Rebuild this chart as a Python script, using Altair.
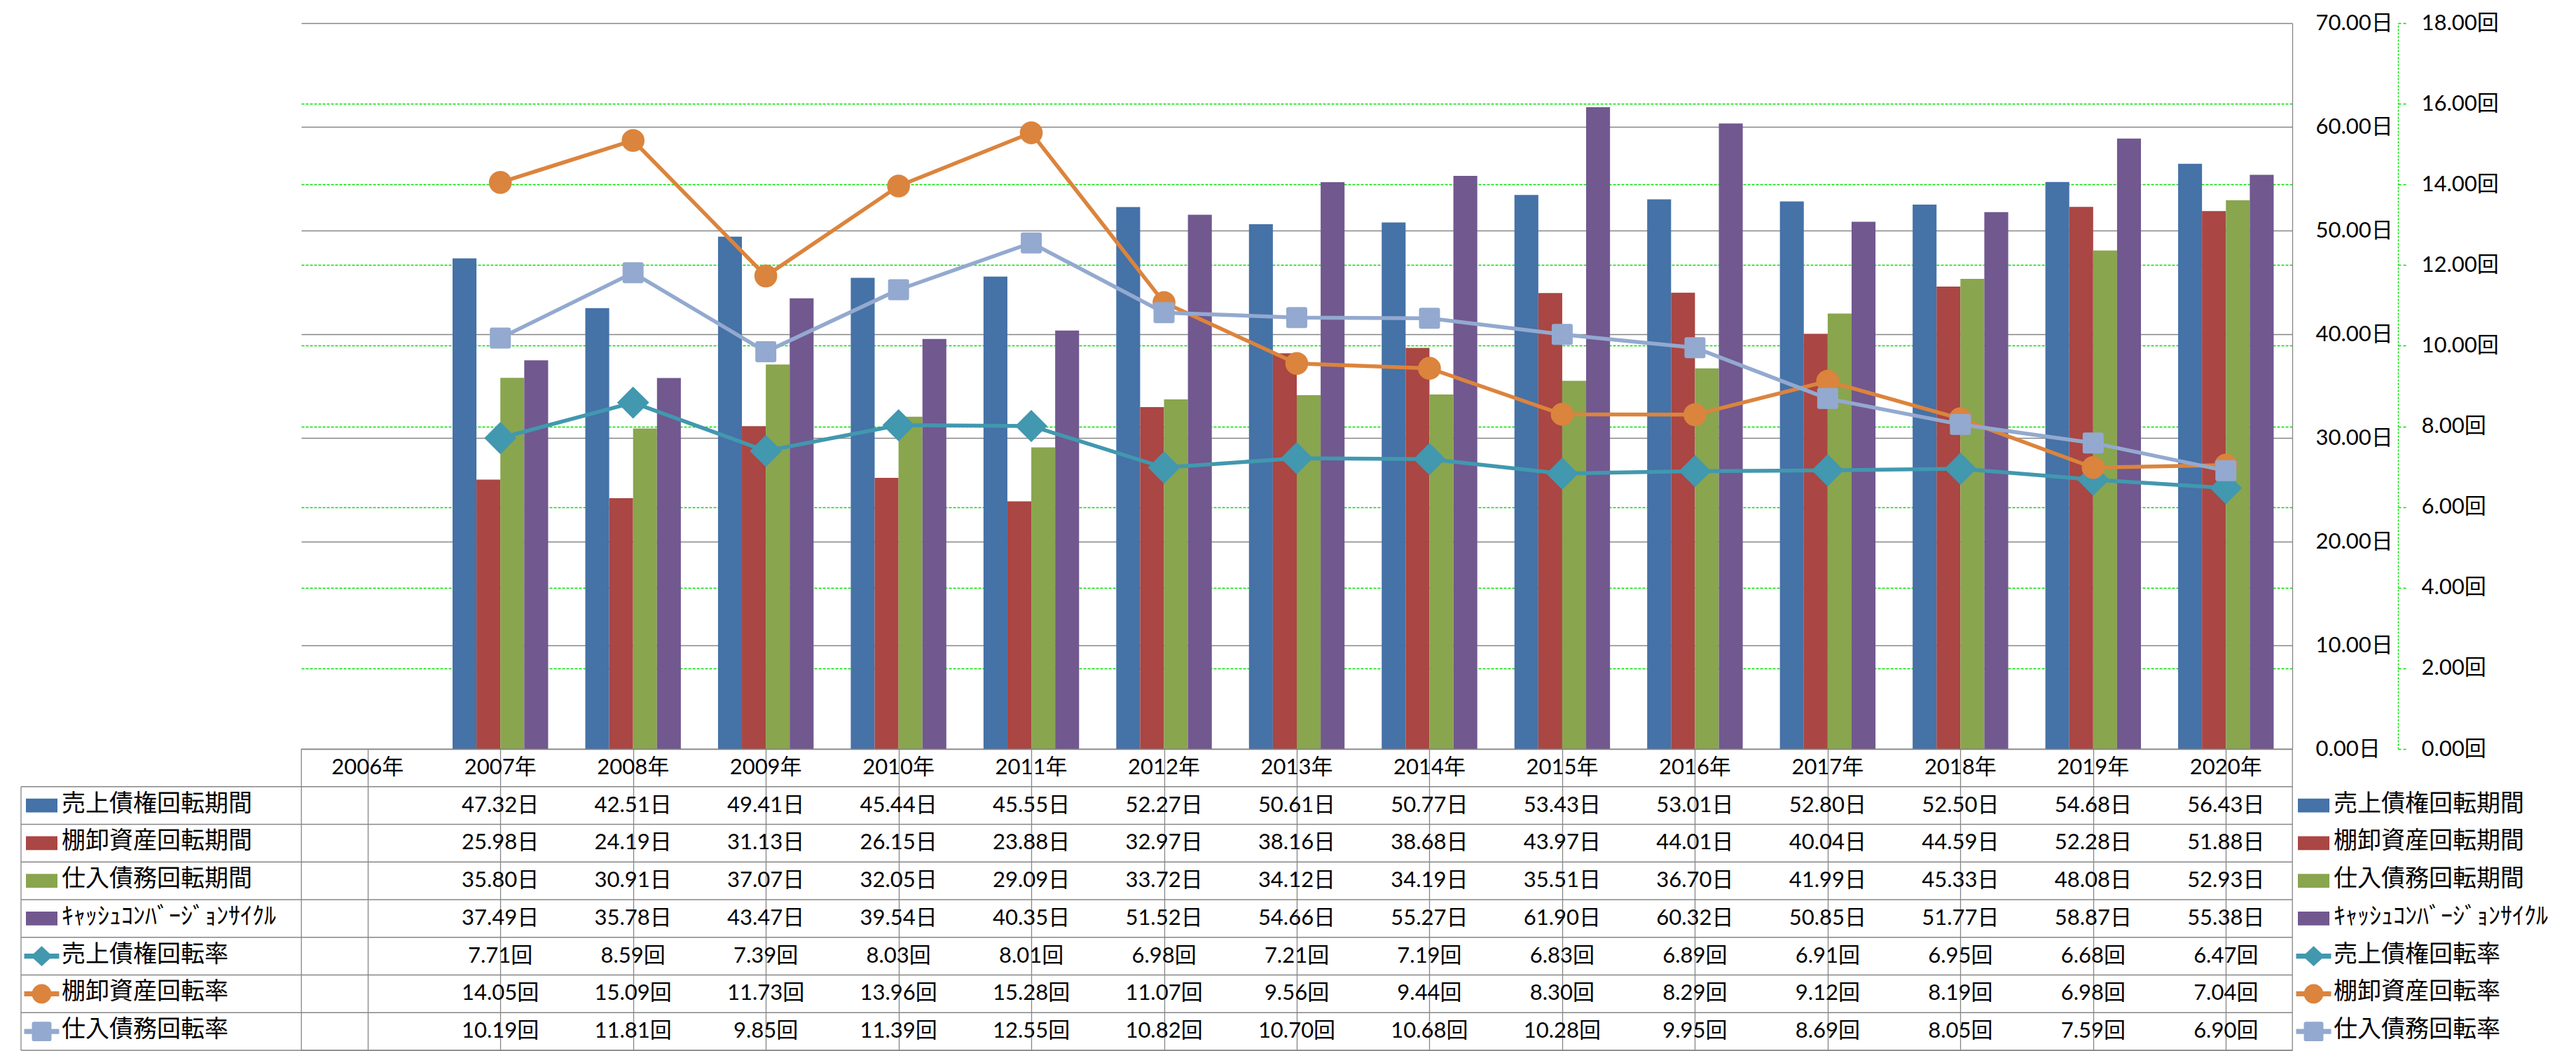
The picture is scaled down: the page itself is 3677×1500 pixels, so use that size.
import altair as alt
import pandas as pd

# ---------------- data ----------------
years = ["2006年", "2007年", "2008年", "2009年", "2010年", "2011年", "2012年", "2013年",
         "2014年", "2015年", "2016年", "2017年", "2018年", "2019年", "2020年"]
data_years = years[1:]

series_names = ["売上債権回転期間", "棚卸資産回転期間", "仕入債務回転期間", "ｷｬｯｼｭｺﾝﾊﾞｰｼﾞｮﾝｻｲｸﾙ",
                "売上債権回転率", "棚卸資産回転率", "仕入債務回転率"]
units = ["日", "日", "日", "日", "回", "回", "回"]
colors = ["#4572A7", "#AA4643", "#89A54E", "#71588F", "#4198AF", "#DB843D", "#93A9CF"]

receivable_days = [47.32, 42.51, 49.41, 45.44, 45.55, 52.27, 50.61, 50.77, 53.43, 53.01, 52.80, 52.50, 54.68, 56.43]
inventory_days = [25.98, 24.19, 31.13, 26.15, 23.88, 32.97, 38.16, 38.68, 43.97, 44.01, 40.04, 44.59, 52.28, 51.88]
payable_days = [35.80, 30.91, 37.07, 32.05, 29.09, 33.72, 34.12, 34.19, 35.51, 36.70, 41.99, 45.33, 48.08, 52.93]
ccc_days = [37.49, 35.78, 43.47, 39.54, 40.35, 51.52, 54.66, 55.27, 61.90, 60.32, 50.85, 51.77, 58.87, 55.38]
receivable_turns = [7.71, 8.59, 7.39, 8.03, 8.01, 6.98, 7.21, 7.19, 6.83, 6.89, 6.91, 6.95, 6.68, 6.47]
inventory_turns = [14.05, 15.09, 11.73, 13.96, 15.28, 11.07, 9.56, 9.44, 8.30, 8.29, 9.12, 8.19, 6.98, 7.04]
payable_turns = [10.19, 11.81, 9.85, 11.39, 12.55, 10.82, 10.70, 10.68, 10.28, 9.95, 8.69, 8.05, 7.59, 6.90]

all_values = [receivable_days, inventory_days, payable_days, ccc_days,
              receivable_turns, inventory_turns, payable_turns]

day_ticks = [0, 10, 20, 30, 40, 50, 60, 70]
turn_ticks = [0, 2, 4, 6, 8, 10, 12, 14, 16, 18]

rows = []
for name, unit, vals in zip(series_names, units, all_values):
    for yr, v in zip(data_years, vals):
        rows.append({"year": yr, "series": name, "unit": unit, "value": v})
df = pd.DataFrame(rows)
header_df = pd.DataFrame({"year": years, "row": "header", "label": years})
row_keys = ["header"] + series_names
rows_df = pd.DataFrame({"row": row_keys})
keys_df = pd.DataFrame({"series": series_names, "row": series_names})

# ---------------- style ----------------
W = 2842
H_TOP = 1036
H_TAB = 430
ROW_H = H_TAB / 8
GRAY = "#868686"
GREEN = "#00E000"
JP = "'Noto Sans CJK JP'"
NUM = "Lato, 'Noto Sans CJK JP'"
NUM_SIZE = 31
LAB_SIZE = 34

# ---------------- top chart ----------------
x_top = alt.X("year:N", sort=years,
              scale=alt.Scale(domain=years, paddingInner=0.28, paddingOuter=0.14),
              axis=None)

day_axis = alt.Axis(orient="right", values=day_ticks, title=None,
                    labelExpr="format(datum.value, '.2f') + '日'",
                    domainColor=GRAY, domainWidth=1.3, ticks=True, tickSize=0,
                    tickColor="transparent", labelPadding=33, labelFont=NUM,
                    labelFontSize=NUM_SIZE, labelColor="#000000", labelFlush=False,
                    labelOverlap=False, grid=True, gridColor=GRAY, gridWidth=1.3)

turn_axis = alt.Axis(orient="right", offset=151, values=turn_ticks, title=None,
                     labelExpr="format(datum.value, '.2f') + '回'",
                     domainColor=GREEN, domainDash=[3, 2], domainWidth=1.5,
                     tickColor=GREEN, tickDash=[4, 3], tickSize=12, tickWidth=1.5,
                     labelPadding=21, labelFont=NUM, labelFontSize=NUM_SIZE,
                     labelColor="#000000", labelFlush=False, labelOverlap=False,
                     grid=True, gridColor=GREEN, gridDash=[4, 2], gridWidth=1.5,
                     gridOpacity=alt.condition("datum.value === 18 || datum.value === 0",
                                               alt.value(0), alt.value(1)))

bars = alt.Chart(df).transform_filter(
    alt.FieldOneOfPredicate(field="series", oneOf=series_names[:4])
).mark_bar().encode(
    x=x_top,
    xOffset=alt.XOffset("series:N", sort=series_names[:4],
                        scale=alt.Scale(domain=series_names[:4], paddingInner=0, paddingOuter=0)),
    y=alt.Y("value:Q", scale=alt.Scale(domain=[0, 70], nice=False), axis=day_axis),
    color=alt.Color("series:N", scale=alt.Scale(domain=series_names[:4], range=colors[:4]),
                    legend=None),
)

y_turn = alt.Y("value:Q", scale=alt.Scale(domain=[0, 18], nice=False), axis=turn_axis)

marker_specs = [
    dict(shape="diamond", size=1850),
    dict(shape="circle", size=940),
    dict(shape="square", size=576, strokeWidth=6, strokeJoin="round"),
]
line_layers = []
for i, spec in zip(range(4, 7), marker_specs):
    sub = alt.Chart(df).transform_filter(alt.datum.series == series_names[i])
    line_layers.append(sub.mark_line(color=colors[i], strokeWidth=5.5).encode(x=x_top, y=y_turn))
    line_layers.append(sub.mark_point(filled=True, opacity=1, color=colors[i], fill=colors[i],
                                      stroke=colors[i], **spec).encode(x=x_top, y=y_turn))

top = alt.layer(bars, alt.layer(*line_layers)).resolve_scale(y="independent").properties(
    width=W, height=H_TOP)

# ---------------- data table with legend keys ----------------
x_tab = alt.X("year:N", sort=years,
              scale=alt.Scale(domain=years, paddingInner=0, paddingOuter=0),
              axis=alt.Axis(title=None, labels=False, ticks=False, domain=False, grid=True,
                            gridColor=GRAY, gridWidth=1.3, bandPosition=0))
tab_scale = alt.Scale(domain=row_keys, paddingInner=0, paddingOuter=0)
y_tab = alt.Y("row:N", sort=row_keys, scale=tab_scale, axis=None)

header_text = alt.Chart(header_df).mark_text(
    font=NUM, fontSize=NUM_SIZE, color="#000000", align="center", baseline="middle"
).encode(x=x_tab, y=y_tab, text="label:N")

cell_text = alt.Chart(df).transform_calculate(
    row="datum.series",
    label="format(datum.value, '.2f') + datum.unit",
).mark_text(
    font=NUM, fontSize=NUM_SIZE, color="#000000", align="center", baseline="middle"
).encode(x=x_tab, y=y_tab, text="label:N")

# horizontal table lines at the bottom edge of every row (left column included)
row_lines = alt.Chart(rows_df).mark_rule(color=GRAY, strokeWidth=1.3).encode(
    y=alt.Y("row:N", sort=row_keys, scale=tab_scale, axis=None, bandPosition=1),
    x=alt.value(-400), x2=alt.value(W))

left_border = alt.Chart(pd.DataFrame({"a": [0]})).mark_rule(color=GRAY, strokeWidth=1.3).encode(
    x=alt.value(-400), y=alt.value(ROW_H), y2=alt.value(H_TAB))

BAR_KEY = "M-1,-0.444H1V0.444H-1Z"
LINE_KEY = "M-1.11,-0.16H1.11V0.16H-1.11Z"
DIAMOND_KEY = LINE_KEY + "M0,-0.64L0.69,0L0,0.64L-0.69,0Z"
CIRCLE_KEY = LINE_KEY + "M-0.62,0A0.62,0.62 0 1,1 0.62,0A0.62,0.62 0 1,1 -0.62,0Z"
SQUARE_KEY = LINE_KEY + ("M-0.5,-0.62H0.5A0.12,0.12 0 0 1 0.62,-0.5V0.5A0.12,0.12 0 0 1 0.5,0.62"
                         "H-0.5A0.12,0.12 0 0 1 -0.62,0.5V-0.5A0.12,0.12 0 0 1 -0.5,-0.62Z")
key_shapes = [BAR_KEY] * 4 + [DIAMOND_KEY, CIRCLE_KEY, SQUARE_KEY]


def key_layers(left):
    keys = alt.Chart(keys_df).mark_point(filled=True, opacity=1, size=2025, strokeWidth=0).encode(
        x=alt.value(left + 22.5),
        y=y_tab,
        color=alt.Color("series:N", sort=series_names,
                        scale=alt.Scale(domain=series_names, range=colors), legend=None),
        shape=alt.Shape("series:N", sort=series_names,
                        scale=alt.Scale(domain=series_names, range=key_shapes), legend=None),
    )
    labels = alt.Chart(keys_df).mark_text(
        font=JP, fontSize=LAB_SIZE, color="#000000", align="left", baseline="middle", dy=-2
    ).encode(x=alt.value(left + 51), y=y_tab, text="series:N")
    return [keys, labels]


table = alt.layer(
    header_text, cell_text, row_lines, left_border, *key_layers(-393), *key_layers(W + 8)
).properties(
    width=W, height=H_TAB,
    view=alt.ViewBackground(stroke=GRAY, strokeWidth=1.3),
)

chart = alt.vconcat(top, table, spacing=0, bounds="flush").resolve_scale(
    x="independent", y="independent", color="independent", shape="independent"
).configure_view(stroke="transparent").properties(
    padding={"left": 20, "top": 8, "right": 5, "bottom": 2}
)

chart.save("out.html", embed_options={"renderer": "svg", "actions": False})
